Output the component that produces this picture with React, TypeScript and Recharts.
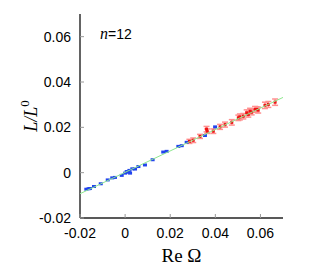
import { ScatterChart, Scatter, XAxis, YAxis, ErrorBar, Label } from 'recharts';

const xTicks = [-0.02, 0, 0.02, 0.04, 0.06];
const yTicks = [-0.02, 0, 0.02, 0.04, 0.06];
const domain: [number, number] = [-0.02, 0.07];

// low-frequency points (blue)
const bluePoints = [
  { x: -0.0172, y: -0.0073 },
  { x: -0.0162, y: -0.0071 },
  { x: -0.0156, y: -0.007 },
  { x: -0.0138, y: -0.0061 },
  { x: -0.0108, y: -0.0049 },
  { x: -0.0077, y: -0.0032 },
  { x: -0.0057, y: -0.0023 },
  { x: -0.0045, y: -0.0021 },
  { x: -0.0015, y: -0.0012 },
  { x: 0.0, y: -0.0002 },
  { x: 0.0007, y: 0.0005 },
  { x: 0.0012, y: 0.0002 },
  { x: 0.0019, y: 0.001 },
  { x: 0.0022, y: -0.0002 },
  { x: 0.0032, y: 0.0017 },
  { x: 0.0044, y: 0.0016 },
  { x: 0.0059, y: 0.0027 },
  { x: 0.0088, y: 0.0034 },
  { x: 0.0122, y: 0.0057 },
  { x: 0.0169, y: 0.0091 },
  { x: 0.0184, y: 0.0094 },
  { x: 0.0236, y: 0.0116 },
  { x: 0.0251, y: 0.0119 },
  { x: 0.0273, y: 0.0134 },
  { x: 0.0354, y: 0.0164 },
  { x: 0.0399, y: 0.0202 },
];

// high-frequency points (red) with error
const redPoints = [
  { x: 0.0285, y: 0.0138, e: 0.0009 },
  { x: 0.0302, y: 0.0143, e: 0.001 },
  { x: 0.0332, y: 0.016, e: 0.0009 },
  { x: 0.0361, y: 0.0192, e: 0.0012 },
  { x: 0.0364, y: 0.0183, e: 0.001 },
  { x: 0.0391, y: 0.0183, e: 0.001 },
  { x: 0.0421, y: 0.0202, e: 0.0011 },
  { x: 0.0443, y: 0.0212, e: 0.0011 },
  { x: 0.0473, y: 0.0222, e: 0.0012 },
  { x: 0.0502, y: 0.0242, e: 0.0012 },
  { x: 0.0509, y: 0.0246, e: 0.0013 },
  { x: 0.0524, y: 0.0249, e: 0.0012 },
  { x: 0.0539, y: 0.0264, e: 0.0013 },
  { x: 0.0546, y: 0.0257, e: 0.0012 },
  { x: 0.0554, y: 0.0271, e: 0.0013 },
  { x: 0.0561, y: 0.0267, e: 0.0012 },
  { x: 0.0576, y: 0.0279, e: 0.0013 },
  { x: 0.0583, y: 0.0279, e: 0.0012 },
  { x: 0.059, y: 0.0276, e: 0.0013 },
  { x: 0.062, y: 0.0297, e: 0.0014 },
  { x: 0.0635, y: 0.0301, e: 0.0013 },
  { x: 0.0665, y: 0.0311, e: 0.0014 },
];

const fitLine = [
  { x: -0.02, y: -0.0093 },
  { x: 0.07, y: 0.0332 },
];

const fmt = (v: number) => (v === 0 ? '0' : v.toFixed(2));
const tickFont = { fontFamily: 'Liberation Sans, Arial, sans-serif', fontSize: 14, fill: '#000' };
const frame = { stroke: '#222', strokeWidth: 1.4 };
const tickGray = '#999';

const BottomTick = (p: any) => (
  <g>
    <line x1={p.x} y1={p.y} x2={p.x} y2={p.y - 4} stroke={tickGray} />
    <text x={p.x} y={p.y + 20} textAnchor="middle" {...tickFont}>{fmt(p.payload.value)}</text>
  </g>
);
const LeftTick = (p: any) => (
  <g>
    <line x1={p.x} y1={p.y} x2={p.x + 4} y2={p.y} stroke={tickGray} />
    <text x={p.x - 9} y={p.y + 5} textAnchor="end" {...tickFont}>{fmt(p.payload.value)}</text>
  </g>
);
const TopTick = (p: any) => <line x1={p.x} y1={p.y} x2={p.x} y2={p.y + 4} stroke={tickGray} />;
const RightTick = (p: any) => <line x1={p.x} y1={p.y} x2={p.x - 4} y2={p.y} stroke={tickGray} />;

const BlueDot = (p: any) => <rect x={p.cx - 2} y={p.cy - 1.5} width={4} height={3} fill="#2244ee" />;
const RedDot = (p: any) => <rect x={p.cx - 1.5} y={p.cy - 1.5} width={3} height={3} fill="#ee1111" />;
const NoDot = () => <g />;

export default function App() {
  return (
    <div style={{ position: 'absolute', left: 0, top: 0, width: 316, height: 271 }}>
      <ScatterChart width={316} height={271} margin={{ top: 14, right: 33, bottom: 13, left: 20 }}>
        <XAxis
          xAxisId="b"
          type="number"
          dataKey="x"
          domain={domain}
          ticks={xTicks}
          allowDataOverflow
          height={40}
          tickSize={0}
          tickMargin={0}
          tickLine={false}
          tick={BottomTick}
          axisLine={frame}
        >
          <Label
            content={(props: any) => {
              const vb = props.viewBox;
              return (
                <text x={vb.x + vb.width / 2} y={vb.y + 44} textAnchor="middle" fontFamily="Liberation Serif, Times New Roman, serif" fontSize={19} fill="#000">
                  Re Ω
                </text>
              );
            }}
          />
        </XAxis>
        <XAxis
          xAxisId="t"
          orientation="top"
          type="number"
          dataKey="x"
          domain={domain}
          ticks={xTicks}
          allowDataOverflow
          height={0}
          tickSize={0}
          tickMargin={0}
          tickLine={false}
          tick={TopTick}
          axisLine={frame}
        />
        <YAxis
          yAxisId="l"
          type="number"
          dataKey="y"
          domain={domain}
          ticks={yTicks}
          allowDataOverflow
          width={60}
          tickSize={0}
          tickMargin={0}
          tickLine={false}
          tick={LeftTick}
          axisLine={frame}
        >
          <Label
            content={(props: any) => {
              const vb = props.viewBox;
              const cx = vb.x + 17;
              const cy = vb.y + vb.height / 2;
              return (
                <text transform={`translate(${cx},${cy}) rotate(-90)`} textAnchor="middle" fontFamily="Liberation Serif, Times New Roman, serif" fill="#000">
                  <tspan fontSize={18} fontStyle="italic">L/L</tspan>
                  <tspan fontSize={13} dy={-8}>0</tspan>
                </text>
              );
            }}
          />
        </YAxis>
        <YAxis
          yAxisId="r"
          orientation="right"
          type="number"
          dataKey="y"
          domain={domain}
          ticks={yTicks}
          allowDataOverflow
          width={0}
          tickSize={0}
          tickMargin={0}
          tickLine={false}
          tick={RightTick}
          axisLine={frame}
        />
        <Scatter xAxisId="b" yAxisId="l" data={bluePoints} shape={BlueDot} isAnimationActive={false} />
        <Scatter xAxisId="b" yAxisId="l" data={redPoints} shape={RedDot} isAnimationActive={false}>
          <ErrorBar dataKey="e" direction="y" width={3} stroke="#ff9090" strokeWidth={1.5} />
        </Scatter>
        <Scatter
          xAxisId="b"
          yAxisId="l"
          data={fitLine}
          shape={NoDot}
          line={{ stroke: '#8ee88e', strokeWidth: 1 }}
          isAnimationActive={false}
        />
      </ScatterChart>
      <div style={{ position: 'absolute', left: 100, top: 26, fontSize: 14, lineHeight: '16px', fontFamily: 'Liberation Sans, Arial, sans-serif', color: '#000', whiteSpace: 'nowrap' }}>
        <span style={{ fontFamily: 'Liberation Serif, Times New Roman, serif', fontStyle: 'italic', fontSize: 16 }}>n</span>=12
      </div>
    </div>
  );
}
